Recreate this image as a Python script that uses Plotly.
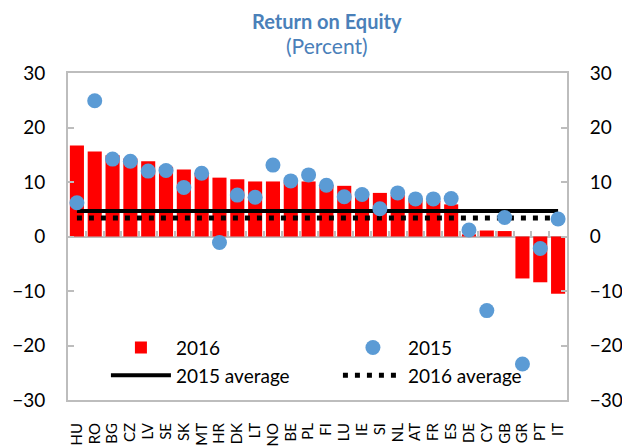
import plotly.graph_objects as go

countries = ["HU", "RO", "BG", "CZ", "LV", "SE", "SK", "MT", "HR", "DK", "LT", "NO", "BE", "PL",
             "FI", "LU", "IE", "SI", "NL", "AT", "FR", "ES", "DE", "CY", "GB", "GR", "PT", "IT"]
roe_2016 = [16.7, 15.6, 14.9, 14.3, 13.8, 12.8, 12.3, 11.6, 10.8, 10.5, 10.1, 10.1, 10.0, 10.1,
            9.4, 9.3, 7.9, 8.0, 7.6, 7.0, 6.5, 5.9, 0.4, 1.1, 1.0, -7.7, -8.4, -10.5]
roe_2015 = [6.2, 24.9, 14.2, 13.8, 12.0, 12.1, 9.0, 11.6, -1.1, 7.6, 7.2, 13.1, 10.2, 11.3,
            9.4, 7.3, 7.7, 5.1, 8.0, 6.9, 6.9, 6.95, 1.2, -13.6, 3.5, -23.4, -2.2, 3.2]
avg_2015 = 4.7
avg_2016 = 3.4
y_ticks = [-30, -20, -10, 0, 10, 20, 30]

FONT = "Lato"
GRAY = "#bdbdbd"
BLUE = "#5b9bd5"
TITLE_C = "#4a80b9"

fig = go.Figure()
fig.add_trace(go.Bar(x=countries, y=roe_2016, name="2016", legendrank=1,
                     marker=dict(color="#ff0000", line=dict(width=0)),
                     xaxis="x", yaxis="y"))
fig.add_trace(go.Scatter(x=[countries[0], countries[-1]], y=[avg_2015, avg_2015],
                         mode="lines", name="2015 average", legendrank=3,
                         line=dict(color="black", width=4), xaxis="x", yaxis="y"))
fig.add_trace(go.Scatter(x=[countries[0], countries[-1]], y=[avg_2016, avg_2016],
                         mode="lines", name="2016 average", legendrank=4,
                         line=dict(color="black", width=5, dash="5px,7px"), xaxis="x", yaxis="y"))
fig.add_trace(go.Scatter(x=countries, y=roe_2015, mode="markers", name="2015", legendrank=2,
                         marker=dict(color=BLUE, size=15), xaxis="x2", yaxis="y2"))

axis_y = dict(range=[-30, 30], tickmode="array", tickvals=y_ticks, showgrid=False, zeroline=False,
              showline=True, linecolor=GRAY, linewidth=2, automargin=False,
              ticks="inside", ticklen=6, tickcolor=GRAY, tickwidth=2,
              tickfont=dict(family=FONT, size=19, color="black"), ticklabelstandoff=17)

x_range = [-0.5, len(countries) - 0.5]

fig.update_layout(
    template="none",
    width=630, height=446,
    margin=dict(l=60, r=71, t=65, b=54, autoexpand=False),
    font=dict(family=FONT, color="black"),
    paper_bgcolor="white", plot_bgcolor="white",
    bargap=0.21,
    showlegend=True,
    legend=dict(orientation="h", x=0.076, y=0.218, xanchor="left", yanchor="top",
                bgcolor="rgba(0,0,0,0)", borderwidth=0,
                font=dict(family=FONT, size=19, color="black"),
                entrywidth=157, itemwidth=60, traceorder="normal"),
    xaxis=dict(type="category", categoryorder="array", categoryarray=countries,
               range=x_range, autorange=False,
               tickmode="array", tickvals=countries, ticktext=countries, automargin=False,
               showgrid=False, zeroline=False, showline=True, mirror=True,
               linecolor=GRAY, linewidth=2, ticks="", tickangle=-90,
               tickfont=dict(family=FONT, size=15, color="black"), ticklabelstandoff=15),
    xaxis2=dict(type="category", categoryorder="array", categoryarray=countries,
                range=x_range, autorange=False,
                overlaying="x", anchor="free", position=0.5, automargin=False,
                showgrid=False, zeroline=False, showline=True, linecolor=GRAY, linewidth=2,
                ticks="inside", ticklen=5, tickcolor=GRAY, tickwidth=2,
                tickson="boundaries", showticklabels=False, layer="below traces"),
    yaxis=dict(**axis_y, side="left"),
    yaxis2=dict(**axis_y, side="right", overlaying="y", anchor="x2"),
    annotations=[
        dict(text="<b>Return on Equity</b>", xref="paper", yref="paper", x=0.52, y=1.158,
             xanchor="center", yanchor="middle", borderpad=0,
             showarrow=False, font=dict(family=FONT, size=20, color=TITLE_C)),
        dict(text="(Percent)", xref="paper", yref="paper", x=0.52, y=1.083,
             xanchor="center", yanchor="middle", borderpad=0,
             showarrow=False, font=dict(family=FONT, size=21, color=TITLE_C)),
    ],
)

fig.write_html("out.html")
